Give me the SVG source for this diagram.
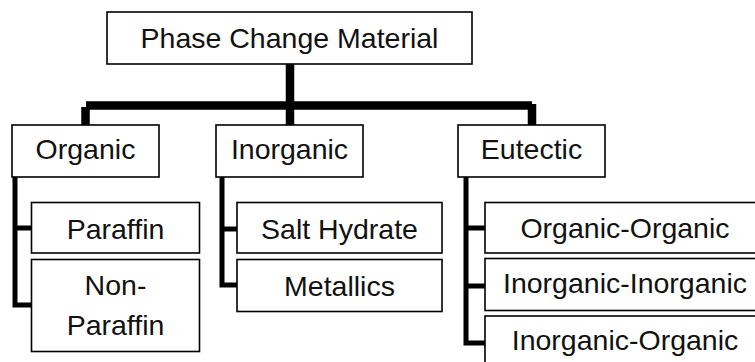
<svg xmlns="http://www.w3.org/2000/svg" width="755" height="362" viewBox="0 0 755 362">
  <style>
    .box { fill: #fff; stroke: #000; stroke-width: 1.6; }
    .lbl { font-family: "Liberation Sans", Arial, sans-serif; font-size: 28.5px; fill: #111; text-anchor: middle; }
    .main { fill: none; stroke: #000; stroke-width: 8.5; stroke-linejoin: miter; }
    .sub { fill: none; stroke: #000; stroke-width: 5; stroke-linejoin: miter; }
  </style>
  <rect width="755" height="362" fill="#fff"/>
  <g id="connectors">
    <path class="main" d="M290 64 V125"/>
    <path class="main" d="M86 105.5 H532"/>
    <path class="main" d="M85.5 107 V125"/>
    <path class="main" d="M532 104 V125"/>
    <path class="sub" d="M15 177 V305 H32 M15 228 H32"/>
    <path class="sub" d="M222 177 V285 H237 M222 229 H237"/>
    <path class="sub" d="M466 177 V343 H485 M466 228 H485 M466 286 H485"/>
  </g>
  <g id="root">
    <rect class="box" x="107" y="12" width="365" height="52"/>
    <text class="lbl" x="289.5" y="48">Phase Change Material</text>
  </g>
  <g id="organic">
    <rect class="box" x="12" y="125" width="147" height="52"/>
    <text class="lbl" x="85.5" y="159">Organic</text>
  </g>
  <g id="inorganic">
    <rect class="box" x="216" y="125" width="147" height="52"/>
    <text class="lbl" x="289.5" y="159">Inorganic</text>
  </g>
  <g id="eutectic">
    <rect class="box" x="458" y="125" width="147" height="52"/>
    <text class="lbl" x="531.5" y="159">Eutectic</text>
  </g>
  <g id="paraffin">
    <rect class="box" x="31.5" y="202.5" width="168" height="50.5"/>
    <text class="lbl" x="115.5" y="239">Paraffin</text>
  </g>
  <g id="non-paraffin">
    <rect class="box" x="31.5" y="259.5" width="168" height="92"/>
    <text class="lbl" x="115.5" y="295">Non-</text>
    <text class="lbl" x="115.5" y="335">Paraffin</text>
  </g>
  <g id="salt-hydrate">
    <rect class="box" x="237" y="202.5" width="205" height="50.5"/>
    <text class="lbl" x="339.5" y="239">Salt Hydrate</text>
  </g>
  <g id="metallics">
    <rect class="box" x="237" y="259.5" width="205" height="52"/>
    <text class="lbl" x="339.5" y="296">Metallics</text>
  </g>
  <g id="organic-organic">
    <rect class="box" x="485" y="202.5" width="280" height="50.5"/>
    <text class="lbl" x="625" y="238">Organic-Organic</text>
  </g>
  <g id="inorganic-inorganic">
    <rect class="box" x="485" y="258.5" width="280" height="52"/>
    <text class="lbl" x="625" y="293">Inorganic-Inorganic</text>
  </g>
  <g id="inorganic-organic">
    <rect class="box" x="485" y="316" width="280" height="60"/>
    <text class="lbl" x="625" y="350">Inorganic-Organic</text>
  </g>
</svg>
